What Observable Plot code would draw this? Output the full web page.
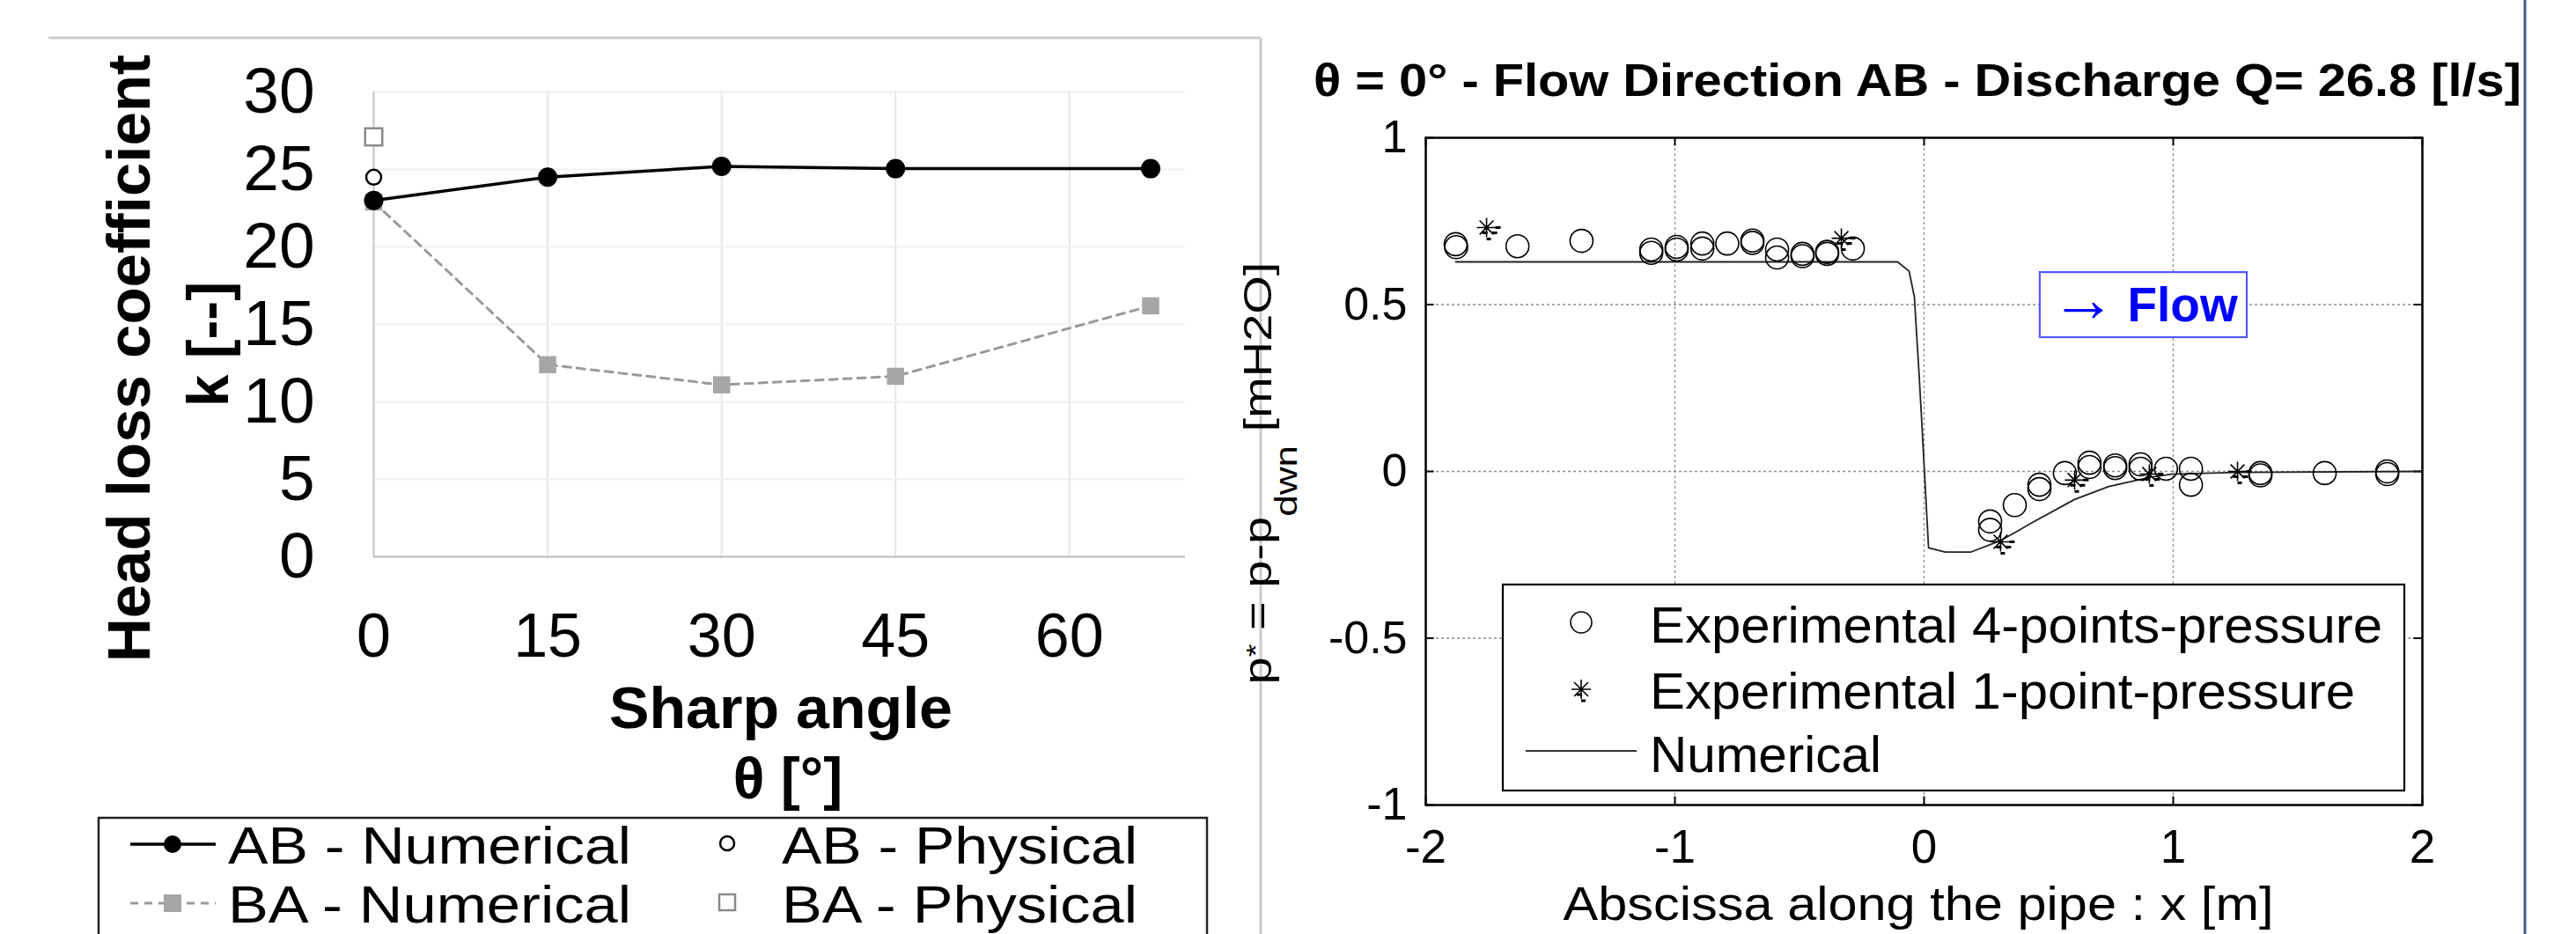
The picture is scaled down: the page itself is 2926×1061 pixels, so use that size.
<!DOCTYPE html>
<html>
<head>
<meta charset="utf-8">
<script src="https://cdn.jsdelivr.net/npm/d3@7"></script>
<script src="https://cdn.jsdelivr.net/npm/@observablehq/plot@0.6"></script>
<style>
html, body { margin: 0; padding: 0; background: #fff; }
#page { position: relative; width: 2926px; height: 1061px; overflow: hidden; background: #fff;
        font-family: "Liberation Sans", Arial, sans-serif; }
#page > .layer { position: absolute; top: 0; }
</style>
</head>
<body>
<div id="page"></div>
<script>
// ---------------- Left chart data: head loss coefficient vs sharp angle ----------------
const angles = [0, 15, 30, 45, 67];
const abNumerical = [23.0, 24.5, 25.2, 25.05, 25.05];
const baNumerical = [22.9, 12.4, 11.1, 11.65, 16.2];
const physAngles = [0];
const abPhysical = [24.5];
const baPhysical = [27.1];
const angleTicks = [0, 15, 30, 45, 60];
const kTicks = [0, 5, 10, 15, 20, 25, 30];

// ---------------- Right chart data: pressure along the pipe ----------------
const exp4X = [-1.880, -1.878, -1.632, -1.375, -1.095, -1.095, -0.993, -0.993, -0.890, -0.890,
               -0.790, -0.689, -0.689, -0.590, -0.590, -0.488, -0.488, -0.389, -0.389, -0.286,
               0.265, 0.265, 0.364, 0.463, 0.463, 0.565, 0.664, 0.664, 0.767, 0.767,
               0.869, 0.869, 0.971, 1.071, 1.071, 1.350, 1.350, 1.608, 1.859, 1.859];
const exp4Y = [0.681, 0.672, 0.675, 0.691, 0.665, 0.655, 0.673, 0.665, 0.683, 0.668,
               0.683, 0.692, 0.685, 0.665, 0.641, 0.652, 0.645, 0.658, 0.652, 0.668,
               -0.150, -0.175, -0.101, -0.040, -0.053, -0.005, 0.026, 0.013, 0.018, 0.010,
               0.021, 0.008, 0.008, 0.008, -0.040, -0.005, -0.012, -0.005, 0.000, -0.008];
const exp1X = [-1.756, -0.332, 0.307, 0.604, 0.904, 1.258];
const exp1Y = [0.731, 0.699, -0.211, -0.026, -0.008, 0.000];
const numX = [-1.88, -0.106, -0.06, -0.039, -0.021, -0.011, 0.018, 0.085, 0.187, 0.311,
              0.435, 0.604, 0.742, 0.904, 0.993, 1.258, 2.0];
const numY = [0.628, 0.628, 0.600, 0.523, 0.303, 0.172, -0.229, -0.242, -0.242, -0.206,
              -0.153, -0.084, -0.045, -0.018, -0.008, -0.003, 0.000];
const xTicksR = [-2, -1, 0, 1, 2];
const yTicksR = [-1, -0.5, 0, 0.5, 1];
const gridXR = [-1, 0, 1];
const gridYR = [-0.5, 0, 0.5];
const flowBox = [{x1: 0.466, x2: 1.297, y1: 0.401, y2: 0.596}];
const flowArrow = [{x: 0.640, y: 0.512, label: "\u2192"}];
const flowWord = [{x: 0.816, y: 0.496, label: "Flow"}];

const FONT = '"Liberation Sans", Arial, sans-serif';
const page = document.getElementById("page");

// ---------- Left chart ----------
const ab = angles.map((a, i) => ({a, k: abNumerical[i]}));
const ba = angles.map((a, i) => ({a, k: baNumerical[i]}));
const abP = physAngles.map((a, i) => ({a, k: abPhysical[i]}));
const baP = physAngles.map((a, i) => ({a, k: baPhysical[i]}));

const left = Plot.plot({
  width: 1440, height: 1061,
  marginLeft: 424, marginRight: 94, marginTop: 104, marginBottom: 429,
  x: {domain: [0, 70]},
  y: {domain: [0, 30]},
  style: {fontFamily: FONT, fontSize: "72px", color: "#000", background: "transparent", overflow: "visible"},
  marks: [
    Plot.gridX(angleTicks.slice(1), {stroke: "#e6e6e6", strokeOpacity: 1, strokeWidth: 2}),
    Plot.gridY(kTicks.slice(1), {stroke: "#f0f0f0", strokeOpacity: 1, strokeWidth: 2}),
    Plot.ruleX([0], {stroke: "#c4c4c4", strokeWidth: 2}),
    Plot.ruleY([0], {stroke: "#b8b8b8", strokeWidth: 2}),
    Plot.axisX(angleTicks, {tickSize: 0, tickPadding: 64, label: null, fontSize: 70}),
    Plot.axisY(kTicks, {tickSize: 0, tickPadding: 67, label: null, fontSize: 73}),
    Plot.line(ba, {x: "a", y: "k", stroke: "#9a9a9a", strokeWidth: 3, strokeDasharray: "9,7"}),
    Plot.line(ab, {x: "a", y: "k", stroke: "#000", strokeWidth: 3.5}),
    Plot.dot(ba, {x: "a", y: "k", symbol: "square", r: 11, fill: "#a6a6a6", stroke: "none"}),
    Plot.dot(ab, {x: "a", y: "k", r: 11, fill: "#000", stroke: "none"}),
    Plot.dot(abP, {x: "a", y: "k", r: 8.5, fill: "#fff", stroke: "#000", strokeWidth: 2.5}),
    Plot.dot(baP, {x: "a", y: "k", symbol: "square", r: 11, fill: "#fff", stroke: "#8a8a8a", strokeWidth: 2.5})
  ]
});
left.classList.add("layer");
left.style.left = "0px";
page.appendChild(left);

// ---------- Right chart ----------
const matlabStar = {
  draw(ctx, size) {
    const r = Math.sqrt(size / Math.PI), d = r * 0.72;
    ctx.moveTo(-r, 0); ctx.lineTo(r, 0);
    ctx.moveTo(0, -r); ctx.lineTo(0, r);
    ctx.moveTo(-d, -d); ctx.lineTo(d, d);
    ctx.moveTo(-d, d); ctx.lineTo(d, -d);
  }
};
const starBits = {
  draw(ctx, size) {
    const s = Math.sqrt(size / Math.PI) / 11;
    const segs = [[10, 0, 16, 0], [-5, 6, 1, 6], [6, 6, 12, 6], [0, 13, 5, 13]];
    for (const [a, b, c, e] of segs) { ctx.moveTo(a * s, b * s); ctx.lineTo(c * s, e * s); }
  }
};

const exp4 = exp4X.map((x, i) => ({x, y: exp4Y[i]}));
const exp1 = exp1X.map((x, i) => ({x, y: exp1Y[i]}));
const num = numX.map((x, i) => ({x, y: numY[i]}));

const right = Plot.plot({
  width: 1440, height: 1061,
  marginLeft: 179, marginRight: 129, marginTop: 156, marginBottom: 147,
  x: {domain: [-2, 2]},
  y: {domain: [-1, 1]},
  style: {fontFamily: FONT, fontSize: "52px", color: "#000", background: "transparent", overflow: "visible"},
  marks: [
    Plot.gridX(gridXR, {stroke: "#8c8c8c", strokeOpacity: 1, strokeWidth: 1.3, strokeDasharray: "3,3"}),
    Plot.gridY(gridYR, {stroke: "#8c8c8c", strokeOpacity: 1, strokeWidth: 1.3, strokeDasharray: "3,3"}),
    Plot.frame({stroke: "#000", strokeWidth: 2.5}),
    Plot.ruleX(xTicksR, {x: d => d, y1: -1, y2: -0.975, stroke: "#000", strokeWidth: 2}),
    Plot.ruleX(xTicksR, {x: d => d, y1: 1, y2: 0.975, stroke: "#000", strokeWidth: 2}),
    Plot.ruleY(yTicksR, {y: d => d, x1: -2, x2: -1.966, stroke: "#000", strokeWidth: 2}),
    Plot.ruleY(yTicksR, {y: d => d, x1: 2, x2: 1.966, stroke: "#000", strokeWidth: 2}),
    Plot.axisX(xTicksR, {tickSize: 0, tickPadding: 28, label: null, fontSize: 53, tickFormat: d => String(d)}),
    Plot.axisY(yTicksR, {tickSize: 0, tickPadding: 21, label: null, fontSize: 52, tickFormat: d => String(d)}),
    Plot.line(num, {x: "x", y: "y", stroke: "#222", strokeWidth: 1.8}),
    Plot.dot(exp4, {x: "x", y: "y", r: 13, fill: "none", stroke: "#000", strokeWidth: 1.6}),
    Plot.dot(exp1, {x: "x", y: "y", symbol: matlabStar, r: 11, fill: "none", stroke: "#000", strokeWidth: 1.6}),
    Plot.dot(exp1, {x: "x", y: "y", symbol: starBits, r: 11, fill: "none", stroke: "#000", strokeWidth: 3}),
    Plot.rect(flowBox, {x1: "x1", x2: "x2", y1: "y1", y2: "y2", fill: "#fff", stroke: "#5555ff", strokeWidth: 2.2}),
    Plot.text(flowArrow, {x: "x", y: "y", text: "label", textAnchor: "middle", lineAnchor: "middle",
                          fill: "#0000ff", fontSize: 74}),
    Plot.text(flowWord, {x: "x", y: "y", text: "label", textAnchor: "start", lineAnchor: "middle",
                         fill: "#0000ff", fontWeight: "bold", fontSize: 55})
  ]
});
right.classList.add("layer");
right.style.left = "1440px";
page.appendChild(right);

// ---------- Overlay: titles, axis labels, legends, panel borders ----------
const NS = "http://www.w3.org/2000/svg";
const ov = document.createElementNS(NS, "svg");
ov.setAttribute("width", 2926);
ov.setAttribute("height", 1061);
ov.setAttribute("class", "layer");
ov.style.left = "0px";
ov.style.fontFamily = FONT;
ov.innerHTML = `
  <!-- left panel border -->
  <line x1="55" y1="43" x2="1432" y2="43" stroke="#cccccc" stroke-width="3"/>
  <line x1="1432" y1="43" x2="1432" y2="1061" stroke="#cccccc" stroke-width="3"/>
  <!-- right page edge line -->
  <line x1="2868" y1="0" x2="2868" y2="1061" stroke="#3d5b8d" stroke-width="3"/>

  <!-- left axis titles -->
  <text transform="translate(170,407) rotate(-90)" text-anchor="middle" font-weight="bold" font-size="69"
        textLength="690" lengthAdjust="spacingAndGlyphs">Head loss coefficient</text>
  <text transform="translate(259,391) rotate(-90)" text-anchor="middle" font-weight="bold" font-size="67"
        textLength="142" lengthAdjust="spacingAndGlyphs">k [--]</text>
  <text x="887" y="827" text-anchor="middle" font-weight="bold" font-size="66"
        textLength="390" lengthAdjust="spacingAndGlyphs">Sharp angle</text>
  <text x="895" y="907" text-anchor="middle" font-weight="bold" font-size="66">θ [°]</text>

  <!-- left legend -->
  <rect x="112" y="929" width="1259" height="200" fill="#fff" stroke="#222" stroke-width="2.5"/>
  <line x1="148" y1="959" x2="245" y2="959" stroke="#000" stroke-width="3.5"/>
  <circle cx="196" cy="959" r="10" fill="#000"/>
  <text x="259" y="981" font-size="60" textLength="458" lengthAdjust="spacingAndGlyphs">AB - Numerical</text>
  <circle cx="826" cy="958" r="8" fill="#fff" stroke="#000" stroke-width="2.5"/>
  <text x="888" y="981" font-size="60" textLength="404" lengthAdjust="spacingAndGlyphs">AB - Physical</text>
  <line x1="148" y1="1026" x2="245" y2="1026" stroke="#9a9a9a" stroke-width="3" stroke-dasharray="9,7"/>
  <rect x="186" y="1016" width="20" height="20" fill="#a6a6a6"/>
  <text x="259" y="1048" font-size="60" textLength="458" lengthAdjust="spacingAndGlyphs">BA - Numerical</text>
  <rect x="817" y="1016" width="18" height="18" fill="#fff" stroke="#8a8a8a" stroke-width="2.5"/>
  <text x="888" y="1048" font-size="60" textLength="404" lengthAdjust="spacingAndGlyphs">BA - Physical</text>

  <!-- right title -->
  <text x="1492" y="109" font-weight="bold" font-size="52" textLength="1372"
        lengthAdjust="spacingAndGlyphs">θ = 0° - Flow Direction AB - Discharge Q= 26.8 [l/s]</text>

  <!-- right y label -->
  <g transform="translate(1444,537.5) rotate(-90) scale(1,0.8)">
    <text text-anchor="middle" font-size="56">p<tspan font-size="38" dy="-10">*</tspan><tspan dy="10"> = p-p</tspan><tspan font-size="44" dy="36">dwn</tspan><tspan dy="-36"> [mH2O]</tspan></text>
  </g>

  <!-- right x label -->
  <text x="2179" y="1045" text-anchor="middle" font-size="54" textLength="807"
        lengthAdjust="spacingAndGlyphs">Abscissa along the pipe : x [m]</text>

  <!-- right legend -->
  <rect x="1707" y="664" width="1024" height="234" fill="#fff" stroke="#000" stroke-width="2.2"/>
  <circle cx="1796" cy="707" r="12" fill="none" stroke="#000" stroke-width="1.6"/>
  <text x="1874" y="730" font-size="58" textLength="832" lengthAdjust="spacingAndGlyphs">Experimental 4-points-pressure</text>
  <g transform="translate(1796,783)" stroke="#000" fill="none">
    <path d="M-11,0H11M0,-11V11M-8,-8L8,8M-8,8L8,-8" stroke-width="1.6"/>
    <path d="M-5,6H1M0,13H5" stroke-width="3"/>
  </g>
  <text x="1874" y="805" font-size="58" textLength="801" lengthAdjust="spacingAndGlyphs">Experimental 1-point-pressure</text>
  <line x1="1733" y1="853" x2="1859" y2="853" stroke="#333" stroke-width="1.8"/>
  <text x="1874" y="877" font-size="58" textLength="263" lengthAdjust="spacingAndGlyphs">Numerical</text>
`;
page.appendChild(ov);
</script>
</body>
</html>
